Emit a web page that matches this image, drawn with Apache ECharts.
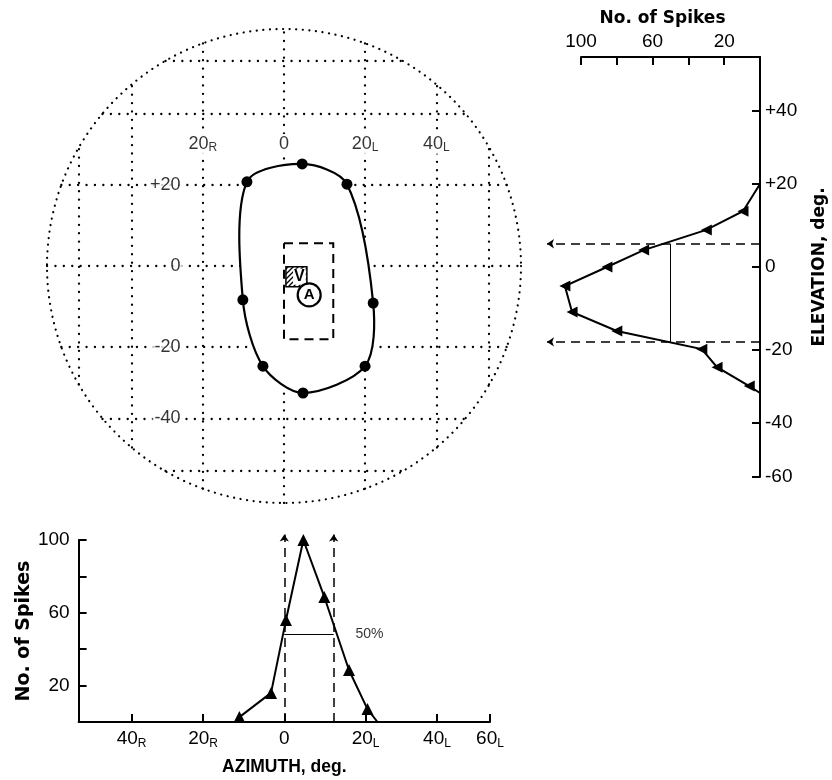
<!DOCTYPE html>
<html><head><meta charset="utf-8">
<script src="https://cdn.jsdelivr.net/npm/echarts@6/dist/echarts.min.js"></script>
<style>html,body{margin:0;padding:0;background:#fff}#c{width:832px;height:780px}</style>
</head><body><div id="c"></div>
<script>
// ---------------- data (degrees / spike counts) ----------------
const fieldGridDeg = [-60, -40, -20, 0, 20, 40, 60];
const fieldAz = [4.4, 15.4, 22.1, 20.0, 4.6, -5.1, -10.0, -9.0];
const fieldEl = [25.5, 20.2, -9.0, -25.0, -32.4, -25.0, -8.2, 20.8];
const rectAz = [0, 12];
const rectEl = [5.5, -18];
const vSquare = [3.0, -2.6];
const aCircle = [6.1, -7.0];
const azLabelDeg = [-20, 0, 20, 40];
const elLabelDeg = [20, 0, -20, -40];

const elevDeg = [20, 13.3, 8.8, 4.0, 0, -4.5, -10.7, -15.3, -19.8, -24.4, -29.4, -31.3];
const elevSpikes = [0, 9.5, 30, 65, 85.5, 109, 105, 80, 32.5, 24, 6, 0];

const azDeg = [-10.9, -3.2, 0.4, 4.6, 9.7, 15.8, 20.5, 23.1];
const azSpikes = [2.7, 16, 56, 100, 68.7, 28.6, 7.1, 0];

const spikeLabels = [100, 60, 20];
const elevTickDeg = [40, 20, 0, -20, -40, -60];
const azTickDeg = [-40, -20, 0, 20, 40, 60];
const halfElevSpikes = 50;
const halfAzSpikes = 48;
const arrowElevSpikes = 119;
const arrowAzSpikes = 103;

// ---------------- helpers ----------------
const S = d => Math.sin(d * Math.PI / 180);
const D = v => Math.round(Math.asin(Math.max(-1, Math.min(1, v))) * 180 / Math.PI);
const FONT = 'Liberation Sans, Arial, sans-serif';
const azText = d => d === 0 ? '{n|0}' : '{n|' + Math.abs(d) + '}{s|' + (d < 0 ? 'R' : 'L') + '}';
const elText = d => d > 0 ? '+' + d : String(d);
const ext = d => S(90 - Math.abs(d));

const pc = document.createElement('canvas');
pc.width = 5; pc.height = 5;
(function () {
  const g = pc.getContext('2d');
  g.fillStyle = '#fff'; g.fillRect(0, 0, 5, 5);
  g.strokeStyle = '#000'; g.lineWidth = 1.3;
  g.beginPath();
  g.moveTo(-1, 6); g.lineTo(6, -1);
  g.moveTo(-1, 1); g.lineTo(1, -1);
  g.moveTo(4, 6); g.lineTo(6, 4);
  g.stroke();
})();

const gridLines = [];
fieldGridDeg.forEach(d => {
  gridLines.push({coords: [[S(d), -ext(d)], [S(d), ext(d)]]});
  gridLines.push({coords: [[-ext(d), S(d)], [ext(d), S(d)]]});
});

const axLine = {onZero: false, lineStyle: {color: '#000', width: 2}};
const axTick = {inside: true, length: 8, lineStyle: {color: '#000', width: 2}};
const richSub = {
  n: {fontSize: 19, fontFamily: FONT, color: '#000', lineHeight: 22},
  s: {fontSize: 12, fontFamily: FONT, color: '#000', lineHeight: 13, verticalAlign: 'bottom'}
};
const elevPts = elevSpikes.map((s, i) => [s, S(elevDeg[i])]);

const chart = echarts.init(document.getElementById('c'));
chart.setOption({
  animation: false,
  backgroundColor: '#fff',
  polar: {center: [284, 266], radius: 237},
  angleAxis: {type: 'value', min: 0, max: 360, z: 1,
    axisLine: {lineStyle: {color: '#000', width: 2.2, type: [0.1, 6.5], cap: 'round'}},
    axisTick: {show: false}, axisLabel: {show: false}, splitLine: {show: false}},
  radiusAxis: {show: false, min: 0, max: 1},
  grid: [
    {left: 47, top: 29, width: 474, height: 474},
    {left: 581, top: 57, width: 179, height: 420},
    {left: 72, top: 540, width: 418, height: 182}
  ],
  xAxis: [
    {gridIndex: 0, type: 'value', min: -1, max: 1, show: false},
    {gridIndex: 1, type: 'value', min: 0, max: 100, interval: 20, inverse: true, position: 'top',
      axisLine: axLine, axisTick: axTick, splitLine: {show: false},
      axisLabel: {margin: 6, color: '#000', fontFamily: FONT, fontSize: 19,
        formatter: v => spikeLabels.includes(v) ? String(v) : ''},
      name: 'No. of Spikes', nameLocation: 'middle', nameGap: 27,
      nameTextStyle: {fontFamily: 'DejaVu Sans', fontWeight: 'bold', fontSize: 17, color: '#000', padding: [0, 16, 0, 0]}},
    {gridIndex: 2, type: 'value', min: -S(60), max: S(60),
      axisLine: axLine, splitLine: {show: false},
      axisTick: Object.assign({customValues: azTickDeg.map(S)}, axTick),
      axisLabel: {customValues: azTickDeg.map(S), margin: 6, formatter: v => azText(D(v)), rich: richSub},
      name: 'AZIMUTH, deg.', nameLocation: 'middle', nameGap: 36,
      nameTextStyle: {fontFamily: FONT, fontWeight: 'bold', fontSize: 17.5, color: '#000'}}
  ],
  yAxis: [
    {gridIndex: 0, type: 'value', min: -1, max: 1, show: false},
    {gridIndex: 1, type: 'value', min: -S(60), max: S(60), position: 'right',
      axisLine: axLine, splitLine: {show: false},
      axisTick: Object.assign({customValues: elevTickDeg.map(S)}, axTick),
      axisLabel: {customValues: elevTickDeg.map(S), margin: 5, color: '#000', fontFamily: FONT, fontSize: 19,
        formatter: v => elText(D(v))},
      name: 'ELEVATION, deg.', nameLocation: 'middle', nameRotate: 90, nameGap: 51,
      nameTextStyle: {fontFamily: 'DejaVu Sans', fontWeight: 'bold', fontSize: 17, color: '#000'}},
    {gridIndex: 2, type: 'value', min: 0, max: 100, interval: 20,
      axisLine: axLine, axisTick: axTick, splitLine: {show: false},
      axisLabel: {margin: 9, color: '#000', fontFamily: FONT, fontSize: 19,
        formatter: v => spikeLabels.includes(v) ? String(v) : ''},
      name: 'No. of Spikes', nameLocation: 'middle', nameRotate: 90, nameGap: 44,
      nameTextStyle: {fontFamily: 'DejaVu Sans', fontWeight: 'bold', fontSize: 19, color: '#000'}}
  ],
  series: [
    // field grid (dotted)
    {type: 'lines', coordinateSystem: 'cartesian2d', xAxisIndex: 0, yAxisIndex: 0, z: 1, silent: true,
      data: gridLines, lineStyle: {color: '#000', width: 2.3, type: [0.1, 8.3], cap: 'round', opacity: 1}},
    // receptive field contour (filled white)
    {type: 'custom', coordinateSystem: 'cartesian2d', xAxisIndex: 0, yAxisIndex: 0, z: 3, silent: true,
      data: fieldAz.map((a, i) => [S(a), S(fieldEl[i])]),
      renderItem: (params, api) => {
        if (params.dataIndex !== 0) return null;
        const pts = fieldAz.map((a, i) => api.coord([S(a), S(fieldEl[i])]));
        return {type: 'polygon', shape: {points: pts, smooth: 0.3},
          style: {fill: '#fff', stroke: '#000', lineWidth: 2.2}};
      }},
    {type: 'scatter', xAxisIndex: 0, yAxisIndex: 0, z: 4, silent: true, symbolSize: 11,
      itemStyle: {color: '#000', opacity: 1}, data: fieldAz.map((a, i) => [S(a), S(fieldEl[i])])},
    // dashed rectangle (50% field)
    {type: 'lines', coordinateSystem: 'cartesian2d', xAxisIndex: 0, yAxisIndex: 0, z: 5, polyline: true, silent: true,
      data: [{coords: [[S(rectAz[0]), S(rectEl[0])], [S(rectAz[1]), S(rectEl[0])], [S(rectAz[1]), S(rectEl[1])],
        [S(rectAz[0]), S(rectEl[1])], [S(rectAz[0]), S(rectEl[0])]]}],
      lineStyle: {color: '#000', width: 2, type: [9, 6], opacity: 1}},
    // hatched V square
    {type: 'custom', coordinateSystem: 'cartesian2d', xAxisIndex: 0, yAxisIndex: 0, z: 6, silent: true,
      data: [[S(vSquare[0]), S(vSquare[1])]],
      renderItem: (params, api) => {
        const c = api.coord([api.value(0), api.value(1)]);
        return {type: 'group', children: [
          {type: 'rect', shape: {x: c[0] - 10.5, y: c[1] - 10, width: 21, height: 20},
            style: {fill: {image: pc, repeat: 'repeat'}, stroke: '#000', lineWidth: 1.5}},
          {type: 'text', style: {text: 'V', x: c[0] + 3, y: c[1], align: 'center', verticalAlign: 'middle',
            font: 'bold 16px ' + FONT, fill: '#000', backgroundColor: '#fff', padding: [0, 1]}}
        ]};
      }},
    // A circle
    {type: 'scatter', xAxisIndex: 0, yAxisIndex: 0, z: 7, silent: true, symbol: 'circle', symbolSize: 23,
      itemStyle: {color: '#fff', borderColor: '#000', borderWidth: 2.2, opacity: 1},
      label: {show: true, position: 'inside', formatter: 'A', color: '#000', fontFamily: FONT, fontWeight: 'bold', fontSize: 15},
      data: [[S(aCircle[0]), S(aCircle[1])]]},
    // field azimuth labels
    {type: 'scatter', xAxisIndex: 0, yAxisIndex: 0, z: 6, silent: true, symbolSize: 1,
      itemStyle: {color: 'rgba(0,0,0,0)'},
      label: {show: true, position: 'inside', backgroundColor: '#fff', padding: [0, 2],
        rich: {n: {fontSize: 18, fontFamily: FONT, color: '#000', lineHeight: 20, backgroundColor: '#fff'},
               s: {fontSize: 12, fontFamily: FONT, color: '#000', lineHeight: 12, verticalAlign: 'bottom', backgroundColor: '#fff'}}},
      data: azLabelDeg.map(d => ({value: [S(d), S(31)], label: {formatter: azText(d)}}))},
    // field elevation labels
    {type: 'scatter', xAxisIndex: 0, yAxisIndex: 0, z: 6, silent: true, symbolSize: 1,
      itemStyle: {color: 'rgba(0,0,0,0)'},
      label: {show: true, position: 'left', distance: 0, backgroundColor: '#fff', padding: [0, 2],
        color: '#000', fontFamily: FONT, fontSize: 18},
      data: elLabelDeg.map(d => ({value: [S(-25.2), S(d)], label: {formatter: elText(d)}}))},

    // ---- elevation panel ----
    {type: 'lines', coordinateSystem: 'cartesian2d', xAxisIndex: 1, yAxisIndex: 1, z: 4, clip: false, silent: true,
      polyline: true, lineStyle: {color: '#000', width: 2, opacity: 1},
      data: [{coords: elevPts}]},
    {type: 'scatter', xAxisIndex: 1, yAxisIndex: 1, z: 5, clip: false, silent: true,
      symbol: 'triangle', symbolSize: 11, symbolRotate: 90, itemStyle: {color: '#000', opacity: 1},
      data: elevPts.slice(1, elevPts.length - 1)},
    {type: 'lines', coordinateSystem: 'cartesian2d', xAxisIndex: 1, yAxisIndex: 1, z: 3, clip: false, silent: true,
      symbol: ['none', 'arrow'], symbolSize: 7,
      lineStyle: {color: '#000', width: 1.5, type: [9, 6], opacity: 1},
      data: rectEl.map(e => ({coords: [[0, S(e)], [arrowElevSpikes, S(e)]]}))},
    {type: 'lines', coordinateSystem: 'cartesian2d', xAxisIndex: 1, yAxisIndex: 1, z: 3, silent: true,
      lineStyle: {color: '#000', width: 1, opacity: 1},
      data: [{coords: [[halfElevSpikes, S(rectEl[0])], [halfElevSpikes, S(rectEl[1])]]}]},

    // ---- azimuth panel ----
    {type: 'line', xAxisIndex: 2, yAxisIndex: 2, z: 4, clip: false, silent: true,
      symbol: 'triangle', symbolSize: 12,
      lineStyle: {color: '#000', width: 2}, itemStyle: {color: '#000', opacity: 1},
      data: azSpikes.map((s, i) => ({value: [S(azDeg[i]), s],
        symbol: i === azSpikes.length - 1 ? 'none' : 'triangle'}))},
    {type: 'lines', coordinateSystem: 'cartesian2d', xAxisIndex: 2, yAxisIndex: 2, z: 3, clip: false, silent: true,
      symbol: ['none', 'arrow'], symbolSize: 7,
      lineStyle: {color: '#000', width: 1.5, type: [9, 6], opacity: 1},
      data: rectAz.map(a => ({coords: [[S(a), 0], [S(a), arrowAzSpikes]]}))},
    {type: 'lines', coordinateSystem: 'cartesian2d', xAxisIndex: 2, yAxisIndex: 2, z: 3, silent: true,
      lineStyle: {color: '#000', width: 1, opacity: 1},
      data: [{coords: [[S(rectAz[0]), halfAzSpikes], [S(rectAz[1]), halfAzSpikes]]}]},
    {type: 'scatter', xAxisIndex: 2, yAxisIndex: 2, z: 5, silent: true, symbolSize: 1,
      itemStyle: {color: 'rgba(0,0,0,0)'},
      label: {show: true, position: 'inside', formatter: '50%', color: '#000', fontFamily: FONT, fontSize: 14},
      data: [[S(21), halfAzSpikes]]}
  ]
});
</script>
</body></html>
